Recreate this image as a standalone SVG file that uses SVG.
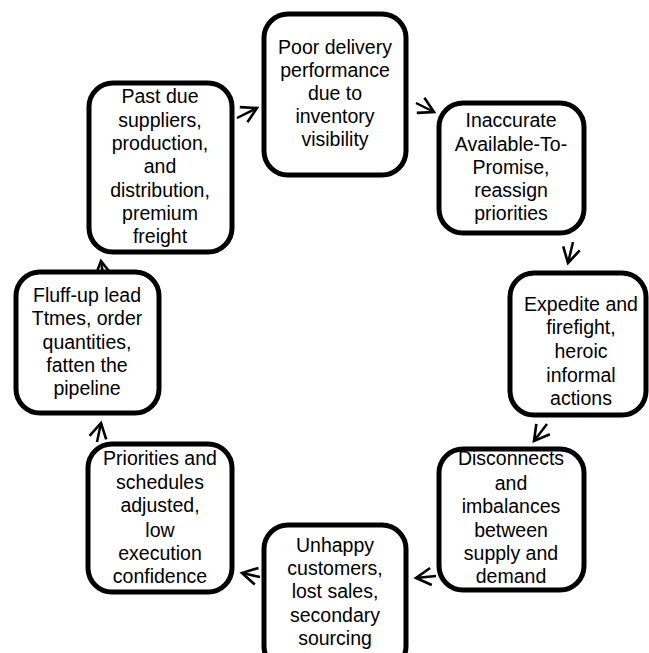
<svg xmlns="http://www.w3.org/2000/svg" width="649" height="653" viewBox="0 0 649 653">
  <defs>
    <style>
      .box { fill: #ffffff; stroke: #000000; stroke-width: 5; }
      .lbl { font-family: "Liberation Sans", Arial, sans-serif; font-size: 19.5px; fill: #000000; text-anchor: middle; }
      .conn { stroke: #000000; stroke-width: 2.5; fill: none; marker-end: url(#head); }
    </style>
    <marker id="head" markerUnits="userSpaceOnUse" viewBox="-18 -12 22 24" refX="0" refY="0" markerWidth="22" markerHeight="24" orient="auto">
      <path d="M-15,-8.5 L0,0 L-15,8.5" fill="none" stroke="#000000" stroke-width="2.6" stroke-linejoin="miter"/>
    </marker>
  </defs>
  <rect width="649" height="653" fill="#ffffff"/>

  <g id="connectors">
    <path class="conn" d="M237,118 L257,108"/>
    <path class="conn" d="M416,103 L434,112"/>
    <path class="conn" d="M573,242 L568,263"/>
    <path class="conn" d="M547,424 L534,441"/>
    <path class="conn" d="M436,576 L416,578"/>
    <path class="conn" d="M260,577 L242,573"/>
    <path class="conn" d="M97,442 L101,423"/>
    <path class="conn" d="M104,281 L101,261"/>
  </g>

  <g id="node-delivery">
    <rect class="box" x="264" y="14" width="142" height="161" rx="24"/>
    <text class="lbl" x="335" y="54">Poor delivery</text>
    <text class="lbl" x="335" y="77">performance</text>
    <text class="lbl" x="335" y="100">due to</text>
    <text class="lbl" x="335" y="123">inventory</text>
    <text class="lbl" x="335" y="146">visibility</text>
  </g>

  <g id="node-atp">
    <rect class="box" x="439" y="103" width="145" height="130" rx="24"/>
    <text class="lbl" x="511" y="127">Inaccurate</text>
    <text class="lbl" x="511" y="151">Available-To-</text>
    <text class="lbl" x="511" y="174">Promise,</text>
    <text class="lbl" x="511" y="197">reassign</text>
    <text class="lbl" x="511" y="220">priorities</text>
  </g>

  <g id="node-expedite">
    <rect class="box" x="510" y="273" width="136" height="142" rx="24"/>
    <text class="lbl" x="581" y="311">Expedite and</text>
    <text class="lbl" x="581" y="334">firefight,</text>
    <text class="lbl" x="581" y="358">heroic</text>
    <text class="lbl" x="581" y="382">informal</text>
    <text class="lbl" x="581" y="405">actions</text>
  </g>

  <g id="node-disconnects">
    <rect class="box" x="439" y="449" width="145" height="141" rx="24"/>
    <text class="lbl" x="511" y="465">Disconnects</text>
    <text class="lbl" x="511" y="490">and</text>
    <text class="lbl" x="511" y="513">imbalances</text>
    <text class="lbl" x="511" y="537">between</text>
    <text class="lbl" x="511" y="560">supply and</text>
    <text class="lbl" x="511" y="583">demand</text>
  </g>

  <g id="node-unhappy">
    <rect class="box" x="264" y="525" width="142" height="145" rx="24"/>
    <text class="lbl" x="335" y="552">Unhappy</text>
    <text class="lbl" x="335" y="575">customers,</text>
    <text class="lbl" x="335" y="598">lost sales,</text>
    <text class="lbl" x="335" y="622">secondary</text>
    <text class="lbl" x="335" y="645">sourcing</text>
  </g>

  <g id="node-priorities">
    <rect class="box" x="88" y="444" width="144" height="148" rx="24"/>
    <text class="lbl" x="160" y="465">Priorities and</text>
    <text class="lbl" x="160" y="489">schedules</text>
    <text class="lbl" x="160" y="512">adjusted,</text>
    <text class="lbl" x="160" y="537">low</text>
    <text class="lbl" x="160" y="560">execution</text>
    <text class="lbl" x="160" y="583">confidence</text>
  </g>

  <g id="node-fluff">
    <rect class="box" x="16" y="272" width="143" height="141" rx="24"/>
    <text class="lbl" x="87" y="302">Fluff-up lead</text>
    <text class="lbl" x="87" y="325">Ttmes, order</text>
    <text class="lbl" x="87" y="349">quantities,</text>
    <text class="lbl" x="87" y="372">fatten the</text>
    <text class="lbl" x="87" y="395">pipeline</text>
  </g>

  <g id="node-pastdue">
    <rect class="box" x="89" y="83" width="143" height="169" rx="24"/>
    <text class="lbl" x="160" y="103">Past due</text>
    <text class="lbl" x="160" y="127">suppliers,</text>
    <text class="lbl" x="160" y="150">production,</text>
    <text class="lbl" x="160" y="173">and</text>
    <text class="lbl" x="160" y="197">distribution,</text>
    <text class="lbl" x="160" y="220">premium</text>
    <text class="lbl" x="160" y="243">freight</text>
  </g>
</svg>
